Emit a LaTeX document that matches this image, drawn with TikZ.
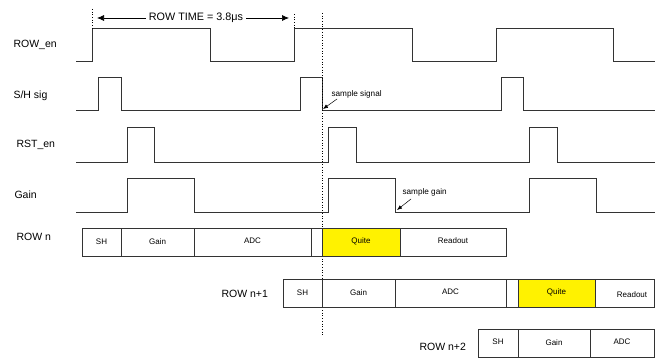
\documentclass[tikz,border=0pt]{standalone}
\usepackage{fontspec}
\setmainfont{Liberation Sans}
\usetikzlibrary{arrows.meta}
\tikzset{
  wave/.style={draw=black!80,line width=0.8pt},
  seg/.style={draw=black!80,line width=0.6pt},
  sig/.style={anchor=west,font=\fontsize{10.5}{12}\selectfont},
  segtext/.style={font=\fontsize{8}{9}\selectfont},
  note/.style={anchor=west,font=\fontsize{8.2}{9}\selectfont},
}
\begin{document}
\begin{tikzpicture}[x=1pt,y=-1pt]
\useasboundingbox (0,0) rectangle (655,358);
% signal names
\node[sig] (rowen) at (10,45) {ROW\_en};
\node[sig] (shsig) at (10,96) {S/H sig};
\node[sig] (rsten) at (13,145) {RST\_en};
\node[sig] (gain) at (11,195) {Gain};
\node[sig] (rown) at (13,237) {ROW n};
\node[sig] (rown1) at (218,294) {ROW n+1};
\node[sig] (rown2) at (416,347) {ROW n+2};
% waveforms
\draw[wave] (76,61) -- (92,61) -- (92,28) -- (210,28) -- (210,61) -- (294,61) -- (294,28) -- (412,28) -- (412,61) -- (496,61) -- (496,28) -- (613,28) -- (613,61) -- (655,61);
\draw[wave] (76,110) -- (98,110) -- (98,77) -- (121,77) -- (121,110) -- (300,110) -- (300,77) -- (322,77) -- (322,110) -- (501,110) -- (501,77) -- (523,77) -- (523,110) -- (655,110);
\draw[wave] (76,162) -- (127,162) -- (127,127) -- (154,127) -- (154,162) -- (328,162) -- (328,127) -- (356,127) -- (356,162) -- (529,162) -- (529,127) -- (557,127) -- (557,162) -- (655,162);
\draw[wave] (76,212) -- (127,212) -- (127,178) -- (194,178) -- (194,212) -- (328,212) -- (328,178) -- (395,178) -- (395,212) -- (529,212) -- (529,178) -- (596,178) -- (596,212) -- (655,212);
% row time
\node[font=\fontsize{10.8}{12}\selectfont,fill=white,inner sep=3pt] (rowtime) at (196,18) {ROW TIME = 3.8μs};
\coordinate (rtleft) at (97,18);
\coordinate (rtright) at (289,18);
\draw[-{Latex[length=7pt,width=6pt]},line width=0.7pt] (rowtime.west) -- (rtleft);
\draw[-{Latex[length=7pt,width=6pt]},line width=0.7pt] (rowtime.east) -- (rtright);
\draw[dotted,line width=0.7pt] (92,9) -- (92,28);
\draw[dotted,line width=0.7pt] (294,14) -- (294,28);
\draw[dotted,line width=0.7pt] (322,13) -- (322,336);
% annotations
\node[note] (smpsig) at (328,94) {sample signal};
\coordinate (smpsigpt) at (323,109);
\draw[-{Latex[length=5pt,width=4pt]},line width=0.5pt] (337,99) -- (smpsigpt);
\node[note] (smpgain) at (399,192) {sample gain};
\coordinate (smpgainpt) at (397,210);
\draw[-{Latex[length=5pt,width=4pt]},line width=0.5pt] (411,199) -- (smpgainpt);
% ROW n
\draw[seg] (82,228) rectangle (121,256);
\node[segtext] at (101.5,242) {SH};
\draw[seg] (121,228) rectangle (194,256);
\node[segtext] at (157.5,242) {Gain};
\draw[seg] (194,228) rectangle (311,256);
\node[segtext] at (252.5,241) {ADC};
\draw[seg] (311,228) rectangle (322,256);
\draw[seg,fill=yellow] (322,228) rectangle (400,256);
\node[segtext] at (361,241) {Quite};
\draw[seg] (400,228) rectangle (506,256);
\node[segtext] at (453,241) {Readout};
% ROW n+1
\draw[seg] (283,279) rectangle (322,307);
\node[segtext] at (302.5,293) {SH};
\draw[seg] (322,279) rectangle (395,307);
\node[segtext] at (358.5,293) {Gain};
\draw[seg] (395,279) rectangle (506,307);
\node[segtext] at (450.5,292) {ADC};
\draw[seg] (506,279) rectangle (518,307);
\draw[seg,fill=yellow] (518,279) rectangle (595,307);
\node[segtext] at (556.5,292) {Quite};
\draw[seg] (595,279) rectangle (654,307);
\node[segtext] at (632,295) {Readout};
% ROW n+2
\draw[seg] (478,329) rectangle (518,357);
\node[segtext] at (498,342) {SH};
\draw[seg] (518,329) rectangle (590,357);
\node[segtext] at (554,343) {Gain};
\draw[seg] (590,329) rectangle (654,357);
\node[segtext] at (622,342) {ADC};
\end{tikzpicture}
\end{document}
